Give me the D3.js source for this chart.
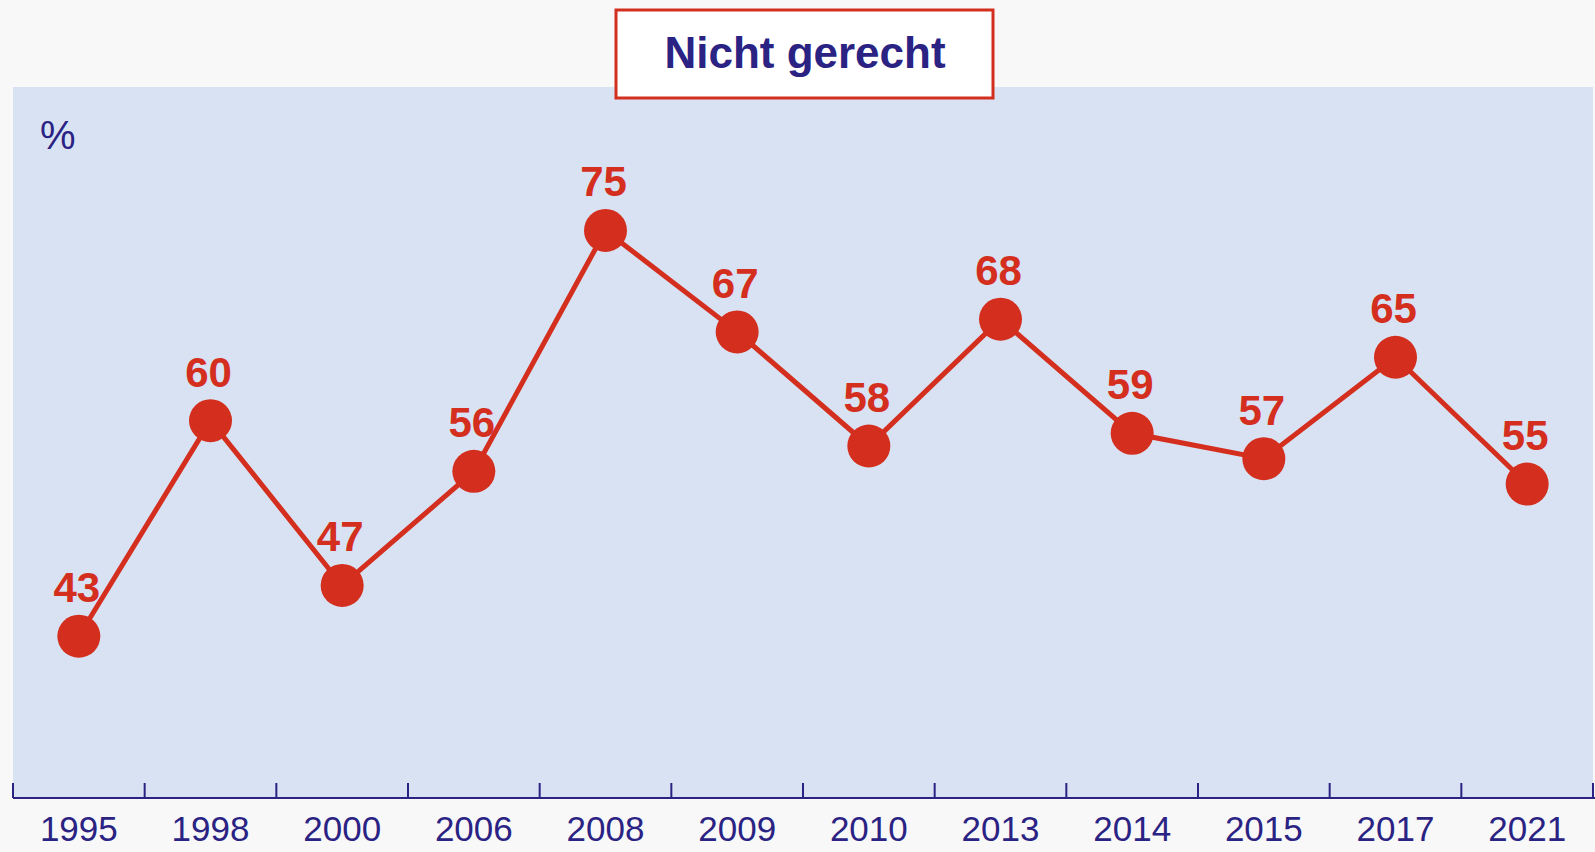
<!DOCTYPE html>
<html>
<head>
<meta charset="utf-8">
<script src="https://cdn.jsdelivr.net/npm/d3@7"></script>
<style>
  html, body { margin: 0; padding: 0; background: #f8f8f8; }
  svg { display: block; font-family: "Liberation Sans", Arial, sans-serif; }
</style>
</head>
<body>
<svg id="chart"></svg>
<script>
const years = ["1995", "1998", "2000", "2006", "2008", "2009", "2010", "2013", "2014", "2015", "2017", "2021"];
const values = [43, 60, 47, 56, 75, 67, 58, 68, 59, 57, 65, 55];
const title = "Nicht gerecht";
const unitLabel = "%";

const width = 1595;
const height = 852;
const panel = { left: 13, right: 1593, top: 87, bottom: 798 };

const red = "#d42f1e";
const blue = "#2b2383";

const svg = d3.select("#chart")
  .attr("width", width)
  .attr("height", height);

svg.append("rect")
  .attr("width", width)
  .attr("height", height)
  .attr("fill", "#f8f8f8");

// plot panel
svg.append("rect")
  .attr("x", panel.left)
  .attr("y", panel.top)
  .attr("width", panel.right - panel.left)
  .attr("height", panel.bottom - panel.top)
  .attr("fill", "#d9e2f3");

const xScale = d3.scaleBand()
  .domain(years)
  .range([panel.left, panel.right])
  .padding(0);

const yScale = d3.scaleLinear()
  .domain([30, 86])
  .range([801, 91]);

const cx = (d, i) => xScale(years[i]) + xScale.bandwidth() / 2;
const cy = d => yScale(d);

// x axis: labels
const xAxis = svg.append("g")
  .attr("transform", `translate(0, ${panel.bottom})`)
  .call(d3.axisBottom(xScale).tickSize(0).tickPadding(18));
xAxis.select(".domain").remove();
xAxis.selectAll("text")
  .attr("fill", blue)
  .attr("font-size", 35)
  .attr("font-family", "Liberation Sans, Arial, sans-serif")
  .attr("dy", "0.71em");

// axis line and boundary ticks
svg.append("line")
  .attr("x1", panel.left)
  .attr("x2", width)
  .attr("y1", panel.bottom)
  .attr("y2", panel.bottom)
  .attr("stroke", blue)
  .attr("stroke-width", 2);

const bounds = years.map(y => xScale(y)).concat([xScale.range()[1]]);
svg.selectAll(".btick")
  .data(bounds)
  .enter()
  .append("line")
  .attr("class", "btick")
  .attr("x1", d => d)
  .attr("x2", d => d)
  .attr("y1", panel.bottom - 15)
  .attr("y2", panel.bottom)
  .attr("stroke", blue)
  .attr("stroke-width", 2);

// unit label
svg.append("text")
  .attr("x", 40)
  .attr("y", 149)
  .attr("fill", blue)
  .attr("font-size", 40)
  .text(unitLabel);

// line
const line = d3.line()
  .x(cx)
  .y(cy);

svg.append("path")
  .datum(values)
  .attr("d", line)
  .attr("fill", "none")
  .attr("stroke", red)
  .attr("stroke-width", 5);

svg.selectAll(".dot")
  .data(values)
  .enter()
  .append("circle")
  .attr("class", "dot")
  .attr("cx", cx)
  .attr("cy", cy)
  .attr("r", 21.5)
  .attr("fill", red);

svg.selectAll(".val")
  .data(values)
  .enter()
  .append("text")
  .attr("class", "val")
  .attr("x", (d, i) => cx(d, i) - 2)
  .attr("y", d => cy(d) - 34)
  .attr("text-anchor", "middle")
  .attr("fill", red)
  .attr("font-size", 42)
  .attr("font-weight", "bold")
  .text(d => d);

// title box
svg.append("rect")
  .attr("x", 616)
  .attr("y", 10)
  .attr("width", 377)
  .attr("height", 88)
  .attr("fill", "#ffffff")
  .attr("stroke", red)
  .attr("stroke-width", 3);

svg.append("text")
  .attr("x", 805)
  .attr("y", 68)
  .attr("text-anchor", "middle")
  .attr("fill", blue)
  .attr("font-size", 44)
  .attr("font-weight", "bold")
  .text(title);
</script>
</body>
</html>
